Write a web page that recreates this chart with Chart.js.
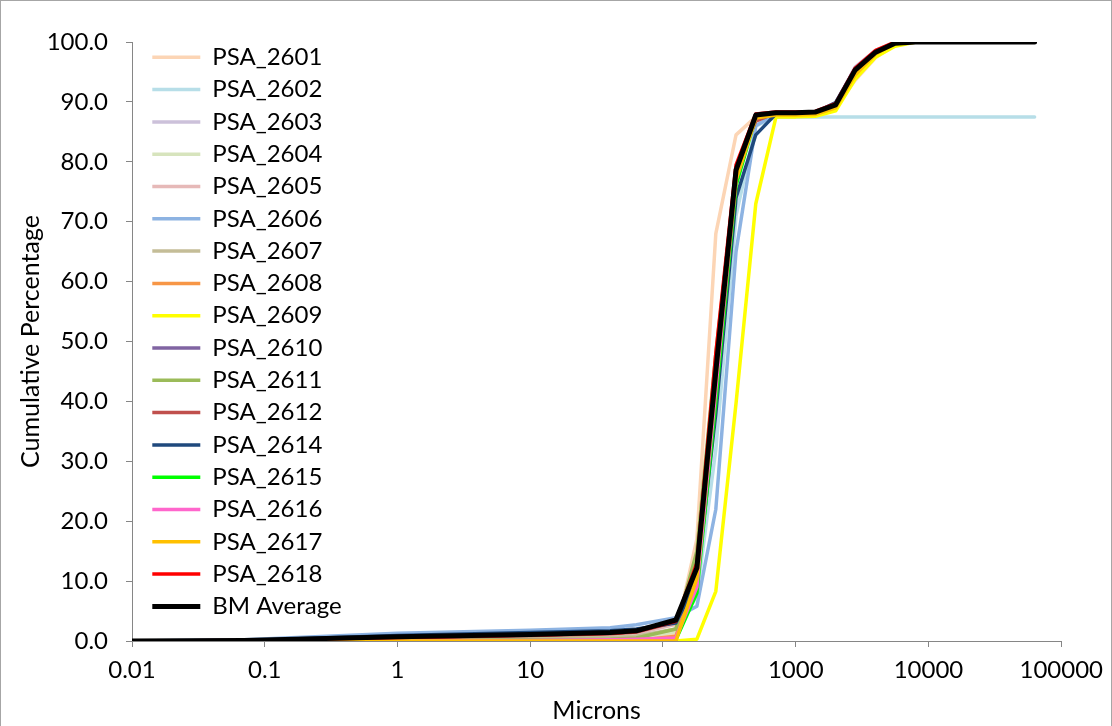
<!DOCTYPE html>
<html>
<head>
<meta charset="utf-8">
<title>Cumulative Percentage</title>
<script src="https://cdn.jsdelivr.net/npm/chart.js@4.4.1/dist/chart.umd.min.js"></script>
<style>
    html, body { margin: 0; padding: 0; background: #fff; }
</style>
</head>
<body>
<canvas id="chart" width="1112" height="726"></canvas>
<script>
// sieve / laser sizes (microns)
const microns = [0.01, 0.07, 1, 10, 40, 63, 125, 180, 250, 355, 500, 710, 1000, 1400, 2000, 2800, 4000, 5600, 8000, 63000];

// cumulative percentages, one array per sample
const psa2601 = [0, 0, 0.2, 0.3, 0.4, 0.5, 1.2, 17, 68, 84.5, 87.5, 88.0, 88.0, 88.1, 89.0, 93.6, 97.4, 99.5, 100, 100];
const psa2602 = [0, 0, 0.3, 0.5, 0.7, 0.9, 1.8, 7.5, 32, 71, 86, 87.5, 87.5, 87.5, 87.5, 87.5, 87.5, 87.5, 87.5, 87.5];
const psa2603 = [0, 0.1, 0.6, 1.0, 1.3, 1.6, 3.2, 12, 46, 79, 88, 88.3, 88.3, 88.4, 89.8, 95.8, 98.6, 99.9, 100, 100];
const psa2604 = [0, 0, 0.1, 0.2, 0.3, 0.4, 1.6, 14, 47, 78, 87.8, 88.2, 88.2, 88.3, 89.4, 95.0, 98.2, 99.8, 100, 100];
const psa2605 = [0, 0.05, 0.4, 0.8, 1.0, 1.3, 2.8, 11, 44, 77, 87.5, 88.0, 88.0, 88.1, 89.2, 94.6, 97.8, 99.6, 100, 100];
const psa2606 = [0, 0.2, 1.3, 1.8, 2.2, 2.7, 3.9, 5.8, 22, 65, 86, 88, 88, 88.1, 89.2, 95, 98.2, 99.8, 100, 100];
const psa2607 = [0, 0, 0.2, 0.4, 0.6, 0.8, 2.0, 12, 45, 78, 87.5, 88, 88, 88.1, 89.3, 95.0, 98.2, 99.8, 100, 100];
const psa2608 = [0, 0, 0, 0, 0, 0.1, 0.8, 11, 46, 78, 87.8, 88.2, 88.2, 88.3, 89.4, 95.2, 98.3, 99.8, 100, 100];
const psa2609 = [0, 0, 0, 0, 0, 0, 0, 0.3, 8.3, 39.7, 73, 87.5, 87.5, 87.6, 88.5, 93.8, 97.5, 99.3, 100, 100];
const psa2610 = [0, 0.1, 0.6, 1.0, 1.3, 1.6, 3.2, 12, 46, 78.5, 87.8, 88.2, 88.2, 88.3, 89.6, 95.6, 98.5, 99.9, 100, 100];
const psa2611 = [0, 0, 0.1, 0.2, 0.3, 0.5, 2.0, 15, 48, 78, 87.5, 88, 88, 88.1, 89.3, 95, 98.2, 99.8, 100, 100];
const psa2612 = [0, 0.05, 0.5, 0.9, 1.2, 1.5, 3.2, 12.5, 47, 79, 86.8, 88.2, 88.2, 88.3, 89.5, 95.3, 98.3, 99.8, 100, 100];
const psa2614 = [0, 0.1, 0.9, 1.4, 1.7, 2.0, 3.0, 10, 38, 74, 84.5, 88, 88.1, 88.2, 89.9, 95.5, 98.4, 99.9, 100, 100];
const psa2615 = [0, 0, 0, 0, 0, 0, 0.2, 8, 40, 76, 87.5, 88, 88, 88.1, 89.3, 95, 98.2, 99.8, 100, 100];
const psa2616 = [0, 0, 0, 0.1, 0.2, 0.3, 0.5, 9, 42, 77, 87.5, 88, 88, 88.1, 89.3, 95, 98.2, 99.8, 100, 100];
const psa2617 = [0, 0, 0, 0, 0, 0, 0, 10.5, 44, 77, 87.3, 87.8, 87.8, 87.9, 89, 94.5, 98, 99.8, 100, 100];
const psa2618 = [0, 0.1, 0.6, 1.0, 1.3, 1.6, 3.3, 13, 48, 79.5, 88, 88.3, 88.3, 88.4, 89.7, 95.6, 98.6, 100, 100, 100];
const bmAverage = [0, 0.1, 0.7, 1.1, 1.4, 1.7, 3.5, 12.2, 45, 78.6, 87.8, 88.2, 88.2, 88.3, 89.5, 95.3, 98.3, 99.8, 100, 100];

const seriesNames = ['PSA_2601', 'PSA_2602', 'PSA_2603', 'PSA_2604', 'PSA_2605', 'PSA_2606', 'PSA_2607', 'PSA_2608', 'PSA_2609',
    'PSA_2610', 'PSA_2611', 'PSA_2612', 'PSA_2614', 'PSA_2615', 'PSA_2616', 'PSA_2617', 'PSA_2618', 'BM Average'];
const seriesValues = [psa2601, psa2602, psa2603, psa2604, psa2605, psa2606, psa2607, psa2608, psa2609,
    psa2610, psa2611, psa2612, psa2614, psa2615, psa2616, psa2617, psa2618, bmAverage];

// axis ticks
const xTickValues = [0.01, 0.1, 1, 10, 100, 1000, 10000, 100000];
const yTickValues = [0, 10, 20, 30, 40, 50, 60, 70, 80, 90, 100];

// line colours (Excel palette)
const seriesColors = ['#fcd5b5', '#b7dee8', '#ccc1da', '#d7e4bd', '#e6b9b8', '#8db3e2', '#c4bd97', '#f79646', '#ffff00',
    '#8064a2', '#9bbb59', '#c0504d', '#1f497d', '#00ff00', '#ff66cc', '#ffc000', '#ff0000', '#000000'];

const FONT = 'Lato, Carlito, Calibri, "Noto Sans", sans-serif';
const axisGray = '#868686';

const datasets = seriesNames.map((name, i) => ({
    label: name,
    data: microns.map((m, j) => ({ x: m, y: seriesValues[i][j] })),
    borderColor: seriesColors[i],
    backgroundColor: seriesColors[i],
    borderWidth: name === 'BM Average' ? 5 : 3.5,
    borderCapStyle: 'round',
    borderJoinStyle: 'round',
    pointRadius: 0,
    tension: 0,
    order: seriesNames.length - i // later series drawn on top, like Excel
}));

// white background + outer frame, and place the legend box inside the plot
const frame = {
    id: 'frame',
    beforeDraw(chart) {
        const c = chart.ctx;
        c.save();
        c.fillStyle = '#fff';
        c.fillRect(0, 0, chart.width, chart.height);
        c.strokeStyle = '#a6a6a6';
        c.lineWidth = 1;
        c.strokeRect(0.5, 0.5, chart.width - 1, chart.height + 4);
        c.restore();
    },
    afterLayout(chart) {
        const area = chart.chartArea;
        chart.legend.left = area.left + 12;
        chart.legend.top = area.top - 5;
        chart.legend.bottom = area.bottom;
    }
};

const ctx = document.getElementById('chart').getContext('2d');
const chart = new Chart(ctx, {
    type: 'line',
    data: { datasets },
    options: {
        responsive: false,
        animation: false,
        layout: { padding: { left: 0, top: 42, right: 50, bottom: 0 } },
        plugins: {
            legend: {
                position: 'chartArea',
                align: 'start',
                labels: {
                    usePointStyle: true,
                    pointStyle: 'line',
                    pointStyleWidth: 48,
                    boxHeight: 24,
                    padding: 8.3,
                    color: '#000',
                    font: { family: FONT, size: 24 },
                    sort: (a, b) => a.datasetIndex - b.datasetIndex
                }
            },
            tooltip: { enabled: false }
        },
        scales: {
            x: {
                type: 'logarithmic',
                min: 0.01,
                max: 100000,
                afterBuildTicks: (scale) => {
                    scale.ticks = xTickValues.map(v => ({ value: v }));
                },
                afterFit: (scale) => { scale.height = 85; },
                ticks: {
                    color: '#000',
                    font: { family: FONT, size: 24 },
                    padding: 9,
                    maxRotation: 0,
                    autoSkip: false,
                    callback: (v) => String(v)
                },
                grid: { drawOnChartArea: false, color: axisGray, tickLength: 6 },
                border: { color: axisGray, width: 1 },
                title: {
                    display: true,
                    text: 'Microns',
                    color: '#000',
                    font: { family: FONT, size: 25 },
                    padding: { top: 0, bottom: 0 }
                }
            },
            y: {
                min: 0,
                max: 100,
                afterBuildTicks: (scale) => {
                    scale.ticks = yTickValues.map(v => ({ value: v }));
                },
                afterFit: (scale) => { scale.width = 132; },
                ticks: {
                    color: '#000',
                    font: { family: FONT, size: 24 },
                    padding: 18,
                    callback: (v) => v.toFixed(1)
                },
                grid: { drawOnChartArea: false, color: axisGray, tickLength: 6 },
                border: { color: axisGray, width: 1 },
                title: {
                    display: true,
                    text: 'Cumulative Percentage',
                    color: '#000',
                    font: { family: FONT, size: 25 },
                    padding: { top: 16, bottom: 0 }
                }
            }
        }
    },
    plugins: [frame]
});
</script>
</body>
</html>
